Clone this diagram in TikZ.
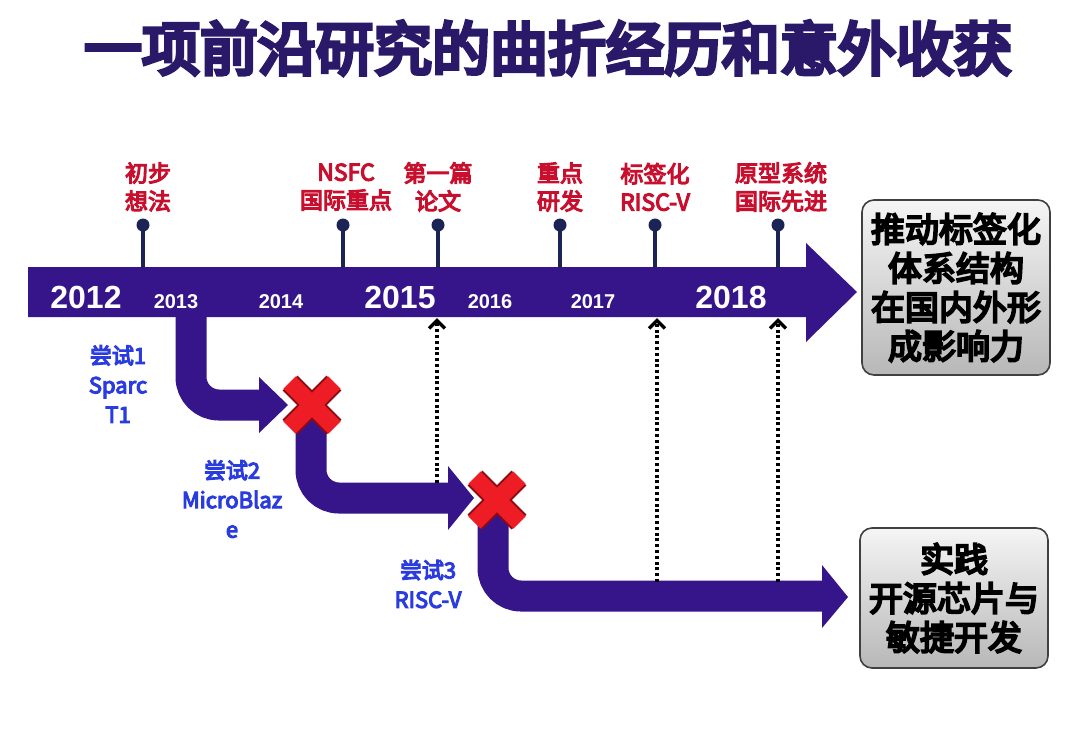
\documentclass[tikz,border=0pt]{standalone}
\usepackage{fontspec}
\setmainfont{Noto Sans CJK SC}
\newfontfamily\titlefont{Noto Sans CJK SC}[FakeBold=7]
\newfontfamily\labelfont{Noto Sans CJK SC}[FakeBold=5]
\newfontfamily\boxfont{Noto Sans CJK SC}[FakeBold=6]
\newfontfamily\yearfont{Liberation Sans}
\usetikzlibrary{arrows.meta,calc}
\definecolor{arrowpurple}{HTML}{36148A}
\definecolor{titlepurple}{HTML}{2A1968}
\definecolor{pinnavy}{HTML}{1C2455}
\definecolor{labelred}{HTML}{C8102E}
\definecolor{labelblue}{HTML}{2A3BE0}
\definecolor{xred}{HTML}{EE1C25}
\definecolor{xdark}{HTML}{8E0A10}
\tikzset{
  arrowbody/.style={fill=arrowpurple},
  bentarrow/.style={draw=arrowpurple, line width=31pt, rounded corners=28pt},
  pinline/.style={draw=pinnavy, line width=3.5pt},
  pindot/.style={fill=pinnavy},
  redlabel/.style={text=labelred, align=center, font=\labelfont\fontsize{23}{28}\selectfont, inner sep=0pt},
  bluelabel/.style={text=labelblue, align=center, font=\labelfont\fontsize{22}{29.5}\selectfont, inner sep=0pt},
  bigyear/.style={text=white, anchor=base, font=\yearfont\bfseries\fontsize{32}{36}\selectfont, inner sep=0pt},
  smallyear/.style={text=white, anchor=base, font=\yearfont\bfseries\fontsize{20}{24}\selectfont, inner sep=0pt},
  goalbox/.style={draw=black!75, line width=1.6pt, rounded corners=12pt, top color=black!4, bottom color=black!28,
     minimum width=188pt, align=center, font=\boxfont\fontsize{34}{39}\selectfont, inner sep=0pt},
  dotarrow/.style={draw=black, line width=3.3pt, dash pattern=on 3pt off 2.8pt, -{Straight Barb[length=8pt,width=16pt,line width=3.5pt]}},
  xdarkarm/.style={draw=xdark, line width=21pt},
  xredarm/.style={draw=xred, line width=17pt},
}
\begin{document}
\begin{tikzpicture}[x=1pt,y=-1pt]
\useasboundingbox (0,0) rectangle (1080,740);
\fill[white] (0,0) rectangle (1080,740);

% title
\node[text=titlepurple, font=\titlefont\fontsize{58}{64}\selectfont, inner sep=0pt] (title) at (548,48) {一项前沿研究的曲折经历和意外收获};

% bent arrows (drawn below main arrow)
\coordinate (s1) at (191,300);
\coordinate (c1) at (191,405);
\coordinate (h1) at (260,405);
\draw[bentarrow] (s1) -- (c1) -- (h1);
\fill[arrowpurple] (259,377) -- (288,405) -- (259,433) -- cycle;

\coordinate (s2) at (311,415);
\coordinate (c2) at (311,498);
\coordinate (h2) at (449,498);
\draw[bentarrow] (s2) -- (c2) -- (h2);
\fill[arrowpurple] (448,466) -- (474,498) -- (448,530) -- cycle;

\coordinate (s3) at (493,510);
\coordinate (c3) at (493,596);
\coordinate (h3) at (823,596);
\draw[bentarrow] (s3) -- (c3) -- (h3);
\fill[arrowpurple] (822,565) -- (848,597) -- (822,628) -- cycle;

% main arrow
\fill[arrowbody] (28,267) -- (806,267) -- (806,243) -- (857,292) -- (806,342) -- (806,317) -- (28,317) -- cycle;

% X marks
\coordinate (x1) at (312,405);
\coordinate (x2) at (497,500);
\foreach \c in {x1,x2}{
  \draw[xdarkarm] ($(\c)+(-22,-22)$) -- ($(\c)+(22,22)$);
  \draw[xdarkarm] ($(\c)+(-22,22)$) -- ($(\c)+(22,-22)$);
}
\foreach \c in {x1,x2}{
  \draw[xredarm] ($(\c)+(-22.5,-22.5)$) -- ($(\c)+(22.5,22.5)$);
  \draw[xredarm] ($(\c)+(-22.5,22.5)$) -- ($(\c)+(22.5,-22.5)$);
}

% pins
\foreach \px/\nm in {143/p1,343/p2,438/p3,560/p4,655/p5,778/p6}{
  \coordinate (\nm top) at (\px,225);
  \coordinate (\nm base) at (\px,268);
  \draw[pinline] (\nm base) -- (\nm top);
  \fill[pindot] (\nm top) circle (6.5);
}

% pin labels
\node[redlabel] (l1) at (148,187) {初步\\想法};
\node[redlabel] (l2) at (346,187) {NSFC\\国际重点};
\node[redlabel] (l3) at (438,187) {第一篇\\论文};
\node[redlabel] (l4) at (560,187) {重点\\研发};
\node[redlabel] (l5) at (655,187) {标签化\\RISC-V};
\node[redlabel] (l6) at (781,187) {原型系统\\国际先进};

% years
\node[bigyear] (y2012) at (86,308) {2012};
\node[smallyear] (y2013) at (176,308) {2013};
\node[smallyear] (y2014) at (281,308) {2014};
\node[bigyear] (y2015) at (400,308) {2015};
\node[smallyear] (y2016) at (490,308) {2016};
\node[smallyear] (y2017) at (593,308) {2017};
\node[bigyear] (y2018) at (731,308) {2018};

% dotted arrows
\coordinate (d1a) at (437,483);
\coordinate (d1b) at (437,318);
\coordinate (d2a) at (657,582);
\coordinate (d2b) at (657,318);
\coordinate (d3a) at (778,582);
\coordinate (d3b) at (778,318);
\draw[dotarrow] (d1a) -- (d1b);
\draw[dotarrow] (d2a) -- (d2b);
\draw[dotarrow] (d3a) -- (d3b);

% blue labels
\node[bluelabel] (t1) at (118,384) {尝试1\\Sparc\\T1};
\node[bluelabel] (t2) at (232,499) {尝试2\\MicroBlaz\\e};
\node[bluelabel] (t3) at (428,584) {尝试3\\RISC-V};

% goal boxes
\node[goalbox, minimum height=175pt] (g1) at (956,287.5) {推动标签化\\体系结构\\在国内外形\\成影响力};
\node[goalbox, minimum height=140pt] (g2) at (954,598) {实践\\开源芯片与\\敏捷开发};
\end{tikzpicture}
\end{document}
